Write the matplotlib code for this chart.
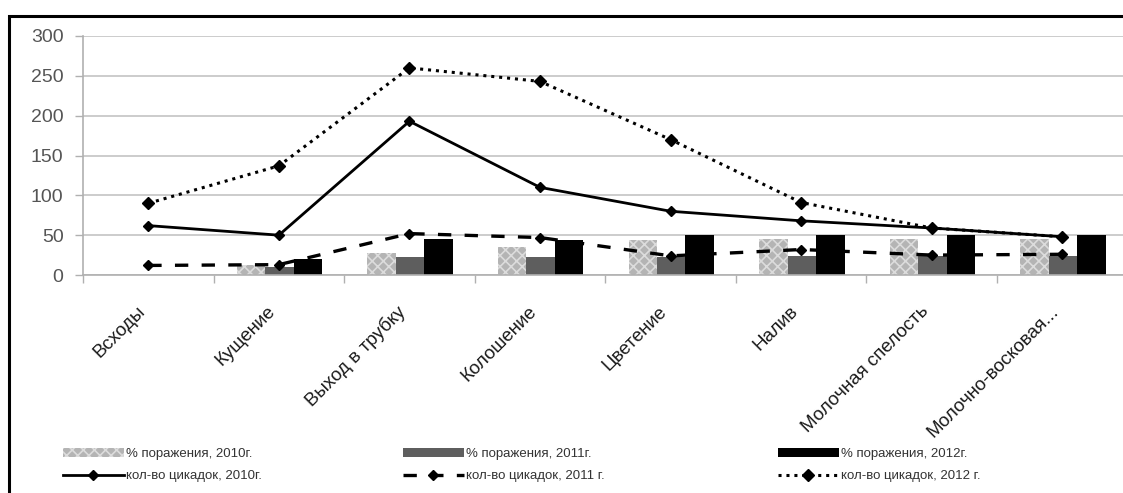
import numpy as np
import matplotlib
matplotlib.use("Agg")
import matplotlib.pyplot as plt
import matplotlib.transforms as mtransforms
from matplotlib.patches import Rectangle, Patch
from matplotlib.lines import Line2D

plt.rcParams['font.family'] = ['Liberation Sans', 'DejaVu Sans']
plt.rcParams['hatch.linewidth'] = 1.2

# Data
stages = ['Всходы', 'Кущение', 'Выход в трубку', 'Колошение', 'Цветение',
          'Налив', 'Молочная спелость', 'Молочно-восковая...']

damage_2010 = [0, 12, 28, 35, 44, 45, 45, 45]
damage_2011 = [0, 10, 23, 23, 23, 24, 24, 24]
damage_2012 = [0, 20, 45, 44, 50, 50, 50, 50]

count_2010 = [62, 50, 193, 110, 80, 68, 59, 48]
count_2011 = [12, 13, 52, 47, 24, 32, 25, 26]
count_2012 = [90, 137, 260, 243, 170, 91, 59, 48]

bar_labels = ['% поражения, 2010г.', '% поражения, 2011г.', '% поражения, 2012г.']
line_labels = ['кол-во цикадок, 2010г.', 'кол-во цикадок, 2011 г.', 'кол-во цикадок, 2012 г.']
yticks = [0, 50, 100, 150, 200, 250, 300]

W, H = 1123, 493
fig = plt.figure(figsize=(W / 100, H / 100), dpi=100)
# plot area runs a bit past the right edge, as in the original crop
ax = fig.add_axes([83 / W, (H - 275) / H, 1044.6 / W, 239 / H])

x = np.arange(len(stages))
w = 0.218
c10, c11, c12 = '#b4b4b4', '#5e5e5e', '#000000'

ax.bar(x - w + 0.005, damage_2010, w, color=c10, hatch='xxx',
       edgecolor='#dcdcdc', linewidth=0, zorder=2)
ax.bar(x + 0.005, damage_2011, w, color=c11, linewidth=0, zorder=2)
ax.bar(x + w + 0.005, damage_2012, w, color=c12, linewidth=0, zorder=2)

ax.plot(x, count_2010, color='black', lw=2.0, marker='D', ms=5.5, zorder=4)
ax.plot(x, count_2011, color='black', lw=2.4, dashes=(4, 4), marker='D',
        ms=5.5, zorder=4)
ax.plot(x, count_2012, color='black', lw=2.2, ls=(0, (1, 1.6)), marker='D',
        ms=6.5, zorder=4)

ax.set_xlim(-0.5, len(stages) - 0.5)
ax.set_ylim(0, 300)
ax.set_yticks(yticks)
ax.yaxis.grid(True, color='#c4c4c4', lw=1.2, zorder=0)
ax.set_axisbelow(True)

ax.set_xticks(x)
ax.set_xticklabels(stages, rotation=45, ha='right', va='top', fontsize=13.5,
                   color='#1a1a1a')
shift = mtransforms.ScaledTranslation(8 / 100, 0, fig.dpi_scale_trans)
for lab in ax.get_xticklabels():
    lab.set_transform(lab.get_transform() + shift)
ax.set_xticks(np.arange(len(stages) + 1) - 0.5, minor=True)
ax.tick_params(axis='x', which='major', length=0, pad=20)
ax.tick_params(axis='x', which='minor', length=6, color='#b0b0b0', width=1)
ax.tick_params(axis='y', length=6, color='#b0b0b0', width=1,
               labelsize=14, labelcolor='#555555', pad=8)

for s in ['top', 'right']:
    ax.spines[s].set_visible(False)
for s in ['left', 'bottom']:
    ax.spines[s].set_color('#b0b0b0')
    ax.spines[s].set_linewidth(1.2)

# legend: three columns, bars on top row, lines below
bar_handles = [Patch(facecolor=c10, hatch='xxx', edgecolor='#dcdcdc', linewidth=0),
               Patch(facecolor=c11, linewidth=0),
               Patch(facecolor=c12, linewidth=0)]
line_handles = [Line2D([], [], color='black', lw=2.0, marker='D', ms=5.5),
                Line2D([], [], color='black', lw=2.4, dashes=(4, 4), marker='D', ms=5.5),
                Line2D([], [], color='black', lw=2.2, ls=(0, (1, 1.6)), marker='D', ms=6.5)]
col_x = [63, 403, 778]
for i in range(3):
    fig.legend([bar_handles[i], line_handles[i]], [bar_labels[i], line_labels[i]],
               loc='upper left', bbox_to_anchor=(col_x[i] / W, 1 - 448 / H),
               frameon=False, fontsize=9.5, handlelength=4.6, handletextpad=0.2,
               labelspacing=0.75, borderpad=0, borderaxespad=0,
               labelcolor='#333333')

# outer chart frame (cropped on the right and bottom)
fig.patches.append(Rectangle((9 / W, -0.2), 1.2, 1.2 - 16 / H,
                             transform=fig.transFigure, fill=False,
                             edgecolor='black', lw=2.2, zorder=10))

fig.savefig('out.png', dpi=100)
